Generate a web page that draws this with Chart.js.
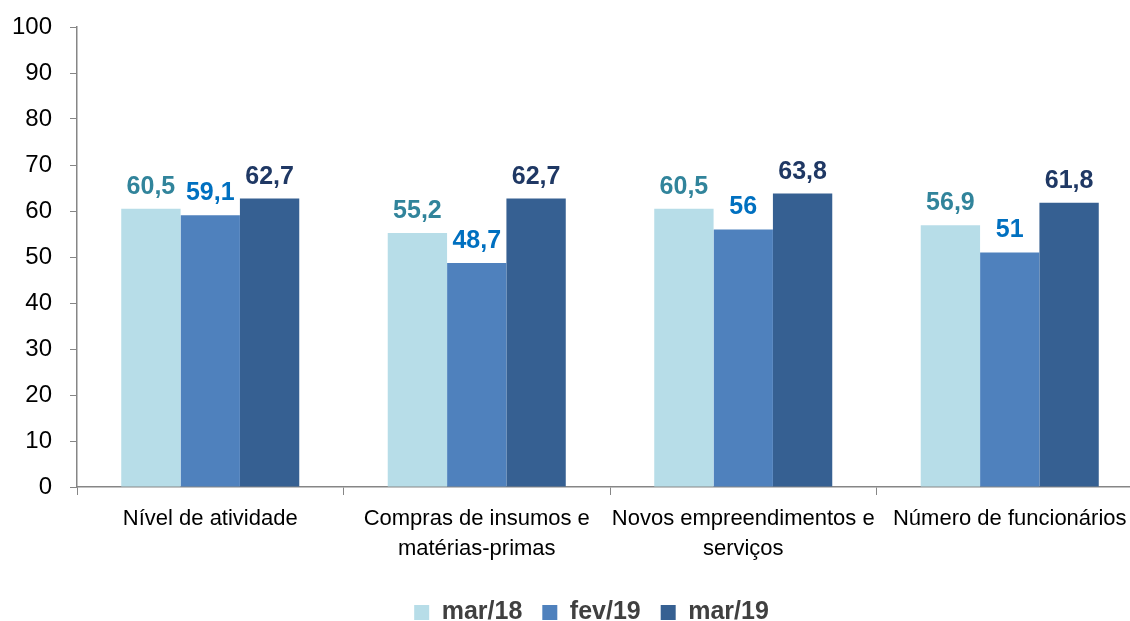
<!DOCTYPE html>
<html lang="pt">
<head>
    <meta charset="UTF-8">
    <title>Indicadores</title>
    <script src="https://cdn.jsdelivr.net/npm/chart.js"></script>
    <style>
        html, body {
            margin: 0;
            padding: 0;
            overflow: hidden;
            background: #fff;
        }
        #wrap {
            width: 1146px;
            height: 621px;
        }
    </style>
</head>
<body>
    <div id="wrap">
        <canvas id="chart" width="1146" height="621"></canvas>
    </div>

    <script>
        const categorias = [
            'Nível de atividade',
            ['Compras de insumos e', 'matérias-primas'],
            ['Novos empreendimentos e', 'serviços'],
            'Número de funcionários'
        ];
        const mar18 = [60.5, 55.2, 60.5, 56.9];
        const fev19 = [59.1, 48.7, 56, 51];
        const mar19 = [62.7, 62.7, 63.8, 61.8];
        const series = ['mar/18', 'fev/19', 'mar/19'];

        const fonte = "'Liberation Sans', Arial, sans-serif";

        // rótulos de valor em cima das barras
        const rotulos = {
            id: 'rotulos',
            afterDatasetsDraw(chart) {
                const ctx = chart.ctx;
                ctx.save();
                ctx.font = 'bold 25px ' + fonte;
                ctx.textAlign = 'center';
                ctx.textBaseline = 'alphabetic';
                chart.data.datasets.forEach((ds, i) => {
                    const meta = chart.getDatasetMeta(i);
                    ctx.fillStyle = ds.labelColor;
                    meta.data.forEach((bar, j) => {
                        const txt = String(ds.data[j]).replace('.', ',');
                        ctx.fillText(txt, bar.x, bar.y - 15);
                    });
                });
                ctx.restore();
            }
        };

        // empurra a legenda um pouco para a direita e para baixo
        const moveLegenda = {
            id: 'moveLegenda',
            afterLayout(chart) {
                const lg = chart.legend;
                if (!lg) return;
                lg.left += 20; lg.right += 20;
                lg.top += 14; lg.bottom += 14;
            }
        };

        new Chart(document.getElementById('chart'), {
            type: 'bar',
            data: {
                labels: categorias,
                datasets: [
                    { label: series[0], data: mar18, backgroundColor: '#B7DDE8', labelColor: '#31849B' },
                    { label: series[1], data: fev19, backgroundColor: '#4F81BD', labelColor: '#0070C0' },
                    { label: series[2], data: mar19, backgroundColor: '#366092', labelColor: '#1F3864' }
                ]
            },
            options: {
                responsive: false,
                animation: false,
                datasets: {
                    bar: {
                        categoryPercentage: 0.668,
                        barPercentage: 1.0
                    }
                },
                layout: {
                    padding: { top: 27, right: 3, left: 0, bottom: 0 }
                },
                plugins: {
                    tooltip: { enabled: false },
                    legend: {
                        position: 'bottom',
                        labels: {
                            boxWidth: 15,
                            boxHeight: 15,
                            padding: 20,
                            color: '#404040',
                            font: { family: fonte, size: 25, weight: 'bold' }
                        }
                    }
                },
                scales: {
                    x: {
                        grid: {
                            display: true,
                            drawOnChartArea: false,
                            offset: true,
                            tickLength: 8,
                            color: '#868686'
                        },
                        border: { color: '#868686', width: 1.5 },
                        ticks: {
                            color: '#000',
                            padding: 9,
                            maxRotation: 0,
                            autoSkip: false,
                            font: { family: fonte, size: 22, lineHeight: 1.35 }
                        },
                        afterFit(scale) { scale.height = 79; }
                    },
                    y: {
                        min: 0,
                        max: 100,
                        grid: {
                            display: true,
                            drawOnChartArea: false,
                            tickLength: 7,
                            color: '#868686'
                        },
                        border: { color: '#868686', width: 1.5 },
                        ticks: {
                            stepSize: 10,
                            color: '#000',
                            padding: 18,
                            font: { family: fonte, size: 24 }
                        },
                        afterFit(scale) {
                            scale.width = 77;
                            scale.paddingTop = 0;
                            scale.paddingBottom = 0;
                        }
                    }
                }
            },
            plugins: [rotulos, moveLegenda]
        });
    </script>
</body>
</html>
